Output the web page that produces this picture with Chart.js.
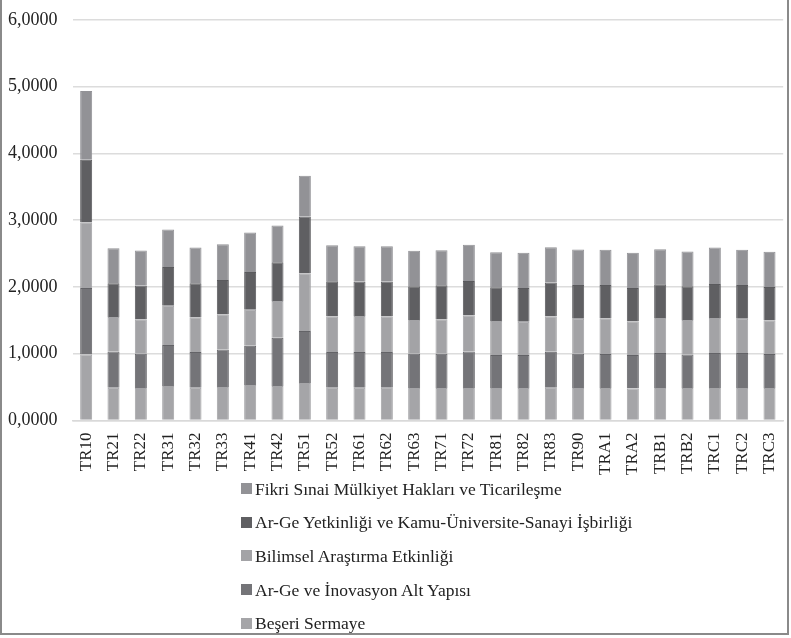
<!DOCTYPE html>
<html>
<head>
<meta charset="utf-8">
<script src="https://cdn.jsdelivr.net/npm/chart.js@4"></script>
<style>
    body{margin:0;background:#fff;overflow:hidden;}
    #frame{position:relative;width:785px;height:633px;border-left:2px solid #8a8a8a;border-right:2px solid #8a8a8a;border-bottom:2px solid #8a8a8a;box-sizing:content-box;}
    #chartBox{position:absolute;left:-9px;top:-6px;width:809px;height:493px;}
    #legend{position:absolute;left:239px;top:472px;font-family:"Times New Roman","Liberation Serif","DejaVu Serif",serif;font-size:17.5px;color:#222;}
    #legend div{height:33.6px;line-height:20px;display:flex;align-items:center;}
    #legend span.box{display:inline-block;width:11px;height:11px;margin-right:3px;}
</style>
</head>
<body>
<div id="frame">
    <div id="chartBox"><canvas id="indexChart"></canvas></div>
    <div id="legend"></div>
</div>
<script>
const regions = ["TR10","TR21","TR22","TR31","TR32","TR33","TR41","TR42","TR51","TR52","TR61","TR62","TR63","TR71","TR72","TR81","TR82","TR83","TR90","TRA1","TRA2","TRB1","TRB2","TRC1","TRC2","TRC3"];

const beseriSermaye = [0.99,0.49,0.485,0.515,0.49,0.50,0.53,0.515,0.56,0.49,0.49,0.49,0.485,0.485,0.485,0.485,0.485,0.49,0.485,0.485,0.48,0.485,0.485,0.485,0.485,0.485];
const argeAltYapi = [0.995,0.545,0.515,0.615,0.535,0.565,0.59,0.725,0.78,0.535,0.535,0.535,0.515,0.515,0.55,0.495,0.495,0.54,0.515,0.51,0.50,0.525,0.505,0.525,0.525,0.51];
const bilimselArastirma = [0.985,0.515,0.515,0.59,0.52,0.525,0.54,0.55,0.865,0.535,0.54,0.535,0.505,0.515,0.54,0.51,0.50,0.53,0.525,0.535,0.505,0.525,0.515,0.525,0.515,0.505];
const argeYetkinlik = [0.935,0.505,0.505,0.58,0.51,0.515,0.565,0.58,0.85,0.525,0.515,0.52,0.505,0.51,0.515,0.505,0.505,0.505,0.505,0.50,0.50,0.505,0.505,0.51,0.505,0.50];
const fikriSinai = [1.03,0.525,0.525,0.56,0.535,0.535,0.59,0.55,0.61,0.54,0.53,0.53,0.53,0.525,0.54,0.525,0.525,0.53,0.53,0.525,0.525,0.525,0.52,0.545,0.525,0.525];

const seriesNames = ["Beşeri Sermaye","Ar-Ge ve İnovasyon Alt Yapısı","Bilimsel Araştırma Etkinliği","Ar-Ge Yetkinliği ve Kamu-Üniversite-Sanayi İşbirliği","Fikri Sınai Mülkiyet Hakları ve Ticarileşme"];
const seriesData = [beseriSermaye, argeAltYapi, bilimselArastirma, argeYetkinlik, fikriSinai];
const seriesColors = ["#a5a5a8","#747478","#a3a3a6","#5f5f62","#929296"];
const seriesBorders = ["#a5a5a8","#636367","#a3a3a6","#5a5a5d","#929296"];

const serifFont = "'Times New Roman', 'Liberation Serif', 'DejaVu Serif', serif";

function barChartBuilder(){
    let datasets = [];
    seriesNames.forEach((name, i) =>{
        datasets.push({
            label: name,
            data: seriesData[i],
            backgroundColor: seriesColors[i],
            borderColor: seriesBorders[i],
            borderWidth: 1,
            barPercentage: 0.44,
            categoryPercentage: 1
        });
    });

    const chart = new Chart("indexChart", {
        type: "bar",
        data: {
            labels: regions,
            datasets: datasets
        },
        options:{
            responsive: true,
            maintainAspectRatio: false,
            animation: false,
            layout: { padding: { left: 0, right: 5, top: 3, bottom: 0 } },
            scales: {
                x: {
                    stacked: true,
                    grid: { display: false, drawTicks: false },
                    border: { color: "#d9d9d9", width: 1.5 },
                    ticks: {
                        color: "#222",
                        font: { family: serifFont, size: 17 },
                        maxRotation: 90,
                        minRotation: 90,
                        padding: 12,
                        autoSkip: false
                    }
                },
                y: {
                    stacked: true,
                    min: 0,
                    max: 6,
                    grid: { color: "#dcdcdc", lineWidth: 1.5, drawTicks: false },
                    border: { display: false },
                    ticks: {
                        stepSize: 1,
                        color: "#222",
                        padding: 15,
                        font: { family: serifFont, size: 18 },
                        callback: value => value.toFixed(4).replace(".", ",")
                    }
                }
            },
            plugins: {
                legend: { display: false },
                tooltip: { enabled: false }
            }
        }
    });

    // legend: reversed order like the original
    const legendBox = document.getElementById("legend");
    chart.data.datasets.slice().reverse().forEach(ds =>{
        const row = document.createElement("div");
        row.innerHTML = `<span class="box" style="background:${ds.backgroundColor}"></span>${ds.label}`;
        legendBox.appendChild(row);
    });
}

barChartBuilder();
</script>
</body>
</html>
